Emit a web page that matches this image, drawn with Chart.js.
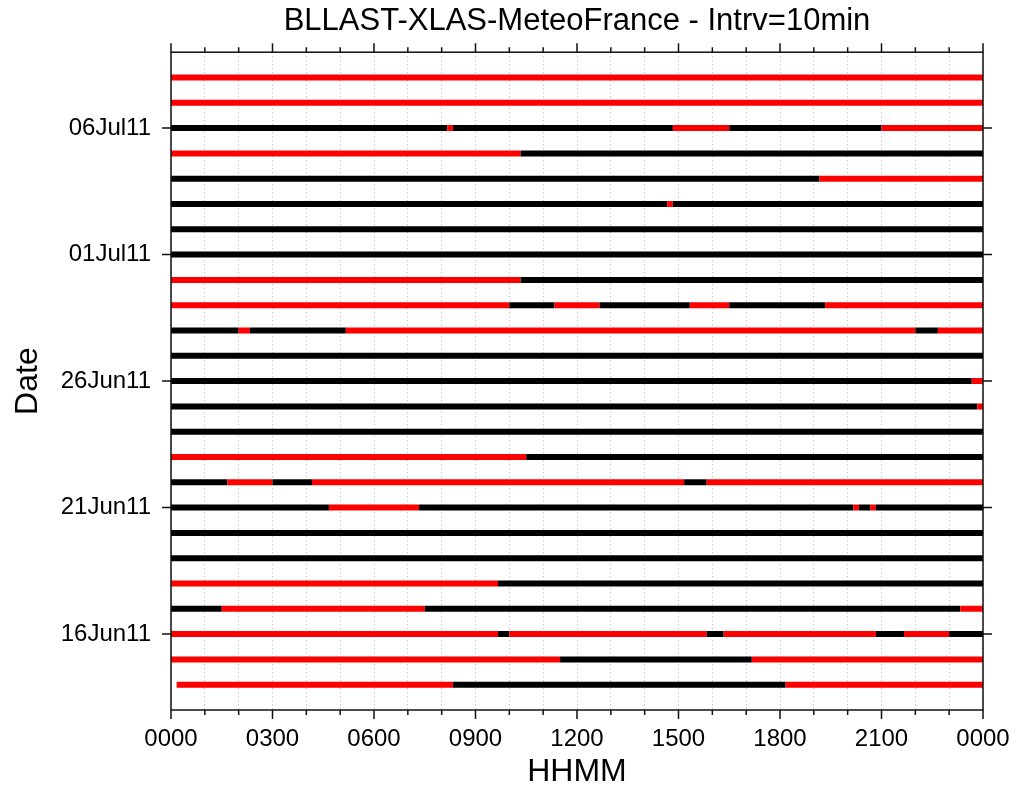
<!DOCTYPE html>
<html>
<head>
<meta charset="utf-8">
<title>BLLAST-XLAS-MeteoFrance</title>
<script src="https://cdn.jsdelivr.net/npm/chart.js@4.4.1/dist/chart.umd.min.js"></script>
<style>
  html, body { margin: 0; padding: 0; background: #fff; }
  #wrap { width: 1028px; height: 792px; }
</style>
</head>
<body>
<div id="wrap"><canvas id="flagChart"></canvas></div>
<script>
// --- Data ---

// one row per day, bottom row first (y value = index + 1)
const DATE_LABELS = [
    '14Jun11', '15Jun11', '16Jun11', '17Jun11', '18Jun11', '19Jun11', '20Jun11',
    '21Jun11', '22Jun11', '23Jun11', '24Jun11', '25Jun11', '26Jun11', '27Jun11',
    '28Jun11', '29Jun11', '30Jun11', '01Jul11', '02Jul11', '03Jul11', '04Jul11',
    '05Jul11', '06Jul11', '07Jul11', '08Jul11'
];

const TICK_DATES = ['16Jun11', '21Jun11', '26Jun11', '01Jul11', '06Jul11'];

// times (HHMM) where the flag changes; first/last = start/end of the record
const DAY_TIMES = [
    [10, 820, 1810, 2400],                               // 14Jun
    [0, 1130, 1710, 2400],                               // 15Jun
    [0, 940, 1000, 1550, 1620, 2050, 2140, 2300, 2400],  // 16Jun
    [0, 130, 730, 2320, 2400],                           // 17Jun
    [0, 940, 2400],                                      // 18Jun
    [0, 2400],                                           // 19Jun
    [0, 2400],                                           // 20Jun
    [0, 440, 720, 2010, 2020, 2040, 2050, 2400],         // 21Jun
    [0, 140, 300, 410, 1510, 1550, 2400],                // 22Jun
    [0, 1030, 2400],                                     // 23Jun
    [0, 2400],                                           // 24Jun
    [0, 2350, 2400],                                     // 25Jun
    [0, 2340, 2400],                                     // 26Jun
    [0, 2400],                                           // 27Jun
    [0, 200, 220, 510, 2200, 2240, 2400],                // 28Jun
    [0, 1000, 1120, 1240, 1520, 1630, 1920, 2400],       // 29Jun
    [0, 1020, 2400],                                     // 30Jun
    [0, 2400],                                           // 01Jul
    [0, 2400],                                           // 02Jul
    [0, 1440, 1450, 2400],                               // 03Jul
    [0, 1910, 2400],                                     // 04Jul
    [0, 1020, 2400],                                     // 05Jul
    [0, 810, 820, 1450, 1630, 2100, 2400],               // 06Jul
    [0, 2400],                                           // 07Jul
    [0, 2400]                                            // 08Jul
];

// flag of each segment between two times: 1 = red, 0 = black
const DAY_FLAGS = [
    [1, 0, 1],
    [1, 0, 1],
    [1, 0, 1, 0, 1, 0, 1, 0],
    [0, 1, 0, 1],
    [1, 0],
    [0],
    [0],
    [0, 1, 0, 1, 0, 1, 0],
    [0, 1, 0, 1, 0, 1],
    [1, 0],
    [0],
    [0, 1],
    [0, 1],
    [0],
    [0, 1, 0, 1, 0, 1],
    [1, 0, 1, 0, 1, 0, 1],
    [1, 0],
    [0],
    [0],
    [0, 1, 0],
    [0, 1],
    [1, 0],
    [0, 1, 0, 1, 0, 1],
    [1],
    [1]
];

const FLAG_COLORS = ['#000000', '#ff0000'];

// --- Helpers ---

function hhmmToHours(v) {
    return Math.floor(v / 100) + (v % 100) / 60;
}

function hoursToLabel(h) {
    return String((h % 24) * 100).padStart(4, '0');
}

// --- Plugins ---

// box round the plot with outward ticks (hourly on x, labelled dates on y)
const framePlugin = {
    id: 'frame',
    afterDraw(chart) {
        const { ctx, chartArea: a, scales: { x, y } } = chart;
        ctx.save();
        ctx.strokeStyle = '#111';
        ctx.lineWidth = 1.5;
        ctx.strokeRect(a.left, a.top, a.right - a.left, a.bottom - a.top);
        ctx.beginPath();
        for (let h = 0; h <= 24; h++) {
            const px = x.getPixelForValue(h);
            const len = h % 3 === 0 ? 9 : 5;
            ctx.moveTo(px, a.top);
            ctx.lineTo(px, a.top - len);
            ctx.moveTo(px, a.bottom);
            ctx.lineTo(px, a.bottom + len);
        }
        y.ticks.forEach(t => {
            const py = y.getPixelForValue(t.value);
            ctx.moveTo(a.left, py);
            ctx.lineTo(a.left - 9, py);
            ctx.moveTo(a.right, py);
            ctx.lineTo(a.right + 9, py);
        });
        ctx.stroke();
        ctx.restore();
    }
};

// --- Chart ---

Chart.defaults.font.family = "'Liberation Sans', Arial, Helvetica, sans-serif";
Chart.defaults.color = '#000';

const datasets = DAY_TIMES.map((times, i) => {
    const flags = DAY_FLAGS[i];
    return {
        label: DATE_LABELS[i],
        data: times.map(t => ({ x: hhmmToHours(t), y: i + 1 })),
        showLine: true,
        borderWidth: 6,
        borderCapStyle: 'butt',
        borderColor: FLAG_COLORS[flags[0]],
        pointRadius: 0,
        segment: {
            borderColor: ctx => FLAG_COLORS[flags[ctx.p0DataIndex]]
        }
    };
});

const tickValues = TICK_DATES.map(d => DATE_LABELS.indexOf(d) + 1);

new Chart(document.getElementById('flagChart'), {
    type: 'scatter',
    data: { datasets },
    options: {
        responsive: true,
        maintainAspectRatio: false,
        devicePixelRatio: 1,
        animation: false,
        layout: { padding: { left: 0, right: 45, top: 0, bottom: 0 } },
        plugins: {
            legend: { display: false },
            tooltip: { enabled: false },
            title: {
                display: true,
                fullSize: false,
                text: 'BLLAST-XLAS-MeteoFrance - Intrv=10min',
                font: { size: 31, weight: 'normal' },
                padding: { top: 3, bottom: 12 }
            }
        },
        scales: {
            x: {
                type: 'linear',
                min: 0,
                max: 24,
                afterFit: scale => { scale.height = 82; },
                ticks: {
                    stepSize: 1,
                    autoSkip: false,
                    maxRotation: 0,
                    padding: 15,
                    font: { size: 24 },
                    callback: v => (v % 3 === 0 ? hoursToLabel(v) : '')
                },
                grid: {
                    display: true,
                    drawTicks: false,
                    color: '#b4b4b4',
                    lineWidth: 1
                },
                border: { display: false, dash: [1, 3] },
                title: {
                    display: true,
                    text: 'HHMM',
                    font: { size: 32 },
                    padding: { top: 0, bottom: 1 }
                }
            },
            y: {
                type: 'linear',
                min: 0,
                max: 26,
                afterFit: scale => { scale.width = 171; },
                afterBuildTicks: scale => {
                    scale.ticks = tickValues.map(v => ({ value: v }));
                },
                ticks: {
                    padding: 20,
                    font: { size: 24 },
                    callback: v => DATE_LABELS[v - 1]
                },
                grid: { display: false, drawTicks: false },
                border: { display: false },
                title: {
                    display: true,
                    text: 'Date',
                    font: { size: 32 },
                    padding: { top: 9, bottom: 0 }
                }
            }
        }
    },
    plugins: [framePlugin]
});
</script>
</body>
</html>
